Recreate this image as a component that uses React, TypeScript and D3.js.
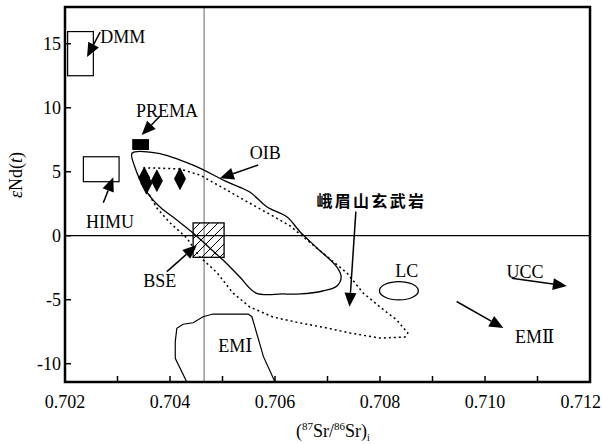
import React from "react";
import * as d3 from "d3";

// axis ranges and ticks
const xDomain = [0.702, 0.712];
const yDomain = [-11.43, 17.87];
const xTicks = d3.range(0, 11).map(i => 0.702 + i * 0.001);
const xTickLabels = ["0.702", "0.704", "0.706", "0.708", "0.710", "0.712"];
const yTicks = [-10, -5, 0, 5, 10, 15];

// reference boxes [x0, x1, y0, y1]
const dmmBox = [0.70205, 0.70254, 12.5, 15.95];
const himuBox = [0.70235, 0.70303, 4.22, 6.17];
const premaBox = [0.70328, 0.7036, 6.7, 7.55];
const bseBox = [0.70444, 0.70503, -1.69, 1.0];
const bseLine = 0.70465;

// LC ellipse [cx, cy, rx, ry]
const lcEllipse = [0.70836, -4.3, 0.00037, 0.72];

// sample points (diamonds)
const samples = [
  [0.70351, 4.5],
  [0.70355, 4.1],
  [0.70375, 4.3],
  [0.70419, 4.45],
];

// OIB field (solid)
const oibField = [
  [0.70328, 6.46], [0.70375, 6.46], [0.70444, 5.52], [0.70509, 4.2],
  [0.70552, 3.41], [0.70585, 2.24], [0.70623, 1.46], [0.70648, 0.29],
  [0.7068, -0.96], [0.70718, -2.45], [0.70726, -3.23], [0.70718, -3.93],
  [0.70691, -4.32], [0.70648, -4.55], [0.70615, -4.55], [0.70564, -4.48],
  [0.70533, -3.23], [0.70505, -2.05], [0.70486, -1.35], [0.70444, 0.21],
  [0.70413, 1.23], [0.70381, 2.24], [0.70356, 3.41], [0.70333, 5.37],
];

// Emeishan basalt field (dotted)
const emeishanField = [
  [0.70349, 5.29], [0.70375, 5.29], [0.70419, 5.21], [0.70457, 4.74],
  [0.70501, 3.73], [0.70558, 2.4], [0.70596, 1.54], [0.70629, 0.76],
  [0.70661, -0.34], [0.70691, -1.35], [0.70737, -2.91], [0.70768, -4.48],
  [0.708, -5.57], [0.70832, -6.59], [0.70853, -7.6], [0.70848, -7.91],
  [0.708, -8.0], [0.70743, -7.6], [0.70699, -7.21], [0.70648, -6.82],
  [0.70596, -6.35], [0.70552, -5.57], [0.7052, -4.48], [0.7049, -2.91],
  [0.70457, -1.66], [0.70432, -0.18], [0.704, 1.01], [0.70375, 2.16],
  [0.70352, 3.8],
];

// EMI field (open, touching the x axis)
const em1Field = [
  [0.70432, -11.43], [0.7041, -9.58], [0.7041, -8.28], [0.70413, -7.23],
  [0.70425, -6.92], [0.70444, -6.8], [0.70463, -6.33], [0.70482, -6.12],
  [0.70549, -6.12], [0.70556, -6.33], [0.70578, -9.45], [0.706, -11.43],
];

// arrows [tailX, tailY, headX, headY]
const arrows = [
  [0.70267, 15.91, 0.70242, 13.96], // DMM
  [0.70381, 9.35, 0.70346, 7.87], // PREMA
  [0.70273, 2.58, 0.70292, 4.56], // HIMU
  [0.70394, -2.81, 0.70451, -0.73], // BSE
  [0.70568, 5.52, 0.70495, 4.48], // OIB
  [0.70754, 1.88, 0.70742, -5.55], // Emeishan
  [0.71051, -3.33, 0.71156, -3.93], // UCC
  [0.70946, -5.14, 0.71035, -7.22], // EMII
];

// labels [text, x, y]
const labels: [string, number, number][] = [
  ["DMM", 0.70267, 15.05],
  ["PREMA", 0.70335, 9.27],
  ["HIMU", 0.7024, 0.6],
  ["BSE", 0.70349, -3.98],
  ["OIB", 0.70552, 5.97],
  ["LC", 0.70829, -3.2],
  ["UCC", 0.71041, -3.33],
  ["EMⅡ", 0.71057, -8.41],
  ["EMⅠ", 0.70492, -9.06],
];
const emeishanLabel = ["峨眉山玄武岩", 0.70679, 2.27];

const W = 602;
const H = 444;
const margin = { left: 65, right: 12, top: 7, bottom: 62 };
const serif = "Liberation Serif, Tinos, Times New Roman, DejaVu Serif, serif";

export default function App() {
  const x = d3.scaleLinear().domain(xDomain).range([margin.left, W - margin.right]);
  const y = d3.scaleLinear().domain(yDomain).range([H - margin.bottom, margin.top]);
  const x0 = margin.left, x1 = W - margin.right;
  const y0 = H - margin.bottom, y1 = margin.top;

  const closedSmooth = d3.line().x(d => x(d[0])).y(d => y(d[1])).curve(d3.curveCatmullRomClosed.alpha(0.5));
  const closedLinear = d3.line().x(d => x(d[0])).y(d => y(d[1])).curve(d3.curveLinearClosed);
  const open = d3.line().x(d => x(d[0])).y(d => y(d[1]));

  const box = (b: number[], props: any, key: string) => (
    <rect key={key} x={x(b[0])} y={y(b[3])} width={x(b[1]) - x(b[0])} height={y(b[2]) - y(b[3])} {...props} />
  );

  const arrow = (a: number[], i: number) => {
    const tx = x(a[0]), ty = y(a[1]), hx = x(a[2]), hy = y(a[3]);
    const ang = Math.atan2(hy - ty, hx - tx);
    const len = 14, half = 6;
    const bx = hx - len * Math.cos(ang), by = hy - len * Math.sin(ang);
    const px = -Math.sin(ang) * half, py = Math.cos(ang) * half;
    return (
      <g key={"a" + i}>
        <line x1={tx} y1={ty} x2={bx} y2={by} stroke="#000" strokeWidth={1.5} />
        <polygon points={`${hx},${hy} ${bx + px},${by + py} ${bx - px},${by - py}`} fill="#000" />
      </g>
    );
  };

  const txt = { fontFamily: serif, fontSize: 18, fill: "#000" };

  return (
    <svg width={W} height={H} style={{ position: "absolute", left: 0, top: 0, background: "#fff" }}>
      <defs>
        <pattern id="hatch" width={9} height={9} patternUnits="userSpaceOnUse">
          <path d="M0,9 L9,0 M-2,2 L2,-2 M7,11 L11,7" stroke="#000" strokeWidth={1} />
        </pattern>
        <clipPath id="plot">
          <rect x={x0} y={y1} width={x1 - x0} height={y0 - y1} />
        </clipPath>
      </defs>

      <g clipPath="url(#plot)">
        <line x1={x(bseLine)} x2={x(bseLine)} y1={y1} y2={y0} stroke="#999" strokeWidth={1.5} />
        <line x1={x0} x2={x1} y1={y(0)} y2={y(0)} stroke="#000" strokeWidth={1.2} />

        <path d={closedLinear(emeishanField as any) || ""} fill="none" stroke="#000" strokeWidth={1.5} strokeDasharray="2,3" />
        <path d={closedSmooth(oibField as any) || ""} fill="none" stroke="#000" strokeWidth={1.3} />
        <path d={open(em1Field as any) || ""} fill="none" stroke="#000" strokeWidth={1.2} />

        {box(dmmBox, { fill: "none", stroke: "#000", strokeWidth: 1.2 }, "dmm")}
        {box(himuBox, { fill: "#fff", stroke: "#000", strokeWidth: 1.2 }, "himu")}
        {box(premaBox, { fill: "#000" }, "prema")}
        {box(bseBox, { fill: "url(#hatch)", stroke: "#000", strokeWidth: 1.3 }, "bse")}

        <ellipse cx={x(lcEllipse[0])} cy={y(lcEllipse[1])} rx={x(lcEllipse[0] + lcEllipse[2]) - x(lcEllipse[0])} ry={y(lcEllipse[1] - lcEllipse[3]) - y(lcEllipse[1])} fill="none" stroke="#000" strokeWidth={1.3} />

        {samples.map((s, i) => {
          const cx = x(s[0]), cy = y(s[1]);
          return <polygon key={"s" + i} points={`${cx},${cy - 11.5} ${cx + 6},${cy} ${cx},${cy + 11.5} ${cx - 6},${cy}`} fill="#000" />;
        })}

        {arrows.map(arrow)}
      </g>

      {labels.map(([t, lx, ly], i) => (
        <text key={"l" + i} x={x(lx)} y={y(ly)} style={txt}>{t}</text>
      ))}
      <text x={x(emeishanLabel[1] as number)} y={y(emeishanLabel[2] as number)} style={{ fontFamily: "Noto Sans CJK SC, sans-serif", fontSize: 16, fontWeight: 700, letterSpacing: 2.3, fill: "#000" }}>
        {emeishanLabel[0]}
      </text>

      {/* axes */}
      {xTicks.map((t, i) => (
        <line key={"xt" + i} x1={x(t)} x2={x(t)} y1={y0} y2={y0 - 6} stroke="#000" strokeWidth={1.5} />
      ))}
      {xTickLabels.map((t, i) => {
        const last = i === xTickLabels.length - 1;
        return (
          <text key={"xl" + i} x={last ? W - 1 : x(+t)} y={y0 + 26} textAnchor={last ? "end" : "middle"} style={txt}>{t}</text>
        );
      })}
      {yTicks.map((t, i) => (
        <g key={"yt" + i}>
          <line x1={x0} x2={x0 + 6} y1={y(t)} y2={y(t)} stroke="#000" strokeWidth={1.5} />
          <text x={x0 - 4} y={y(t)} dy="0.35em" textAnchor="end" style={txt}>{t}</text>
        </g>
      ))}
      <rect x={x0} y={y1} width={x1 - x0} height={y0 - y1} fill="none" stroke="#000" strokeWidth={2.5} />

      <text x={333} y={437} textAnchor="middle" style={txt}>
        (<tspan fontSize={11} dy={-7}>87</tspan><tspan dy={7}>Sr/</tspan><tspan fontSize={11} dy={-7}>86</tspan><tspan dy={7}>Sr)</tspan><tspan fontSize={10} dy={4}>i</tspan>
      </text>
      <text transform="translate(22,175) rotate(-90)" textAnchor="middle" style={txt}>
        <tspan fontStyle="italic">ε</tspan>Nd(<tspan fontStyle="italic">t</tspan>)
      </text>
    </svg>
  );
}
